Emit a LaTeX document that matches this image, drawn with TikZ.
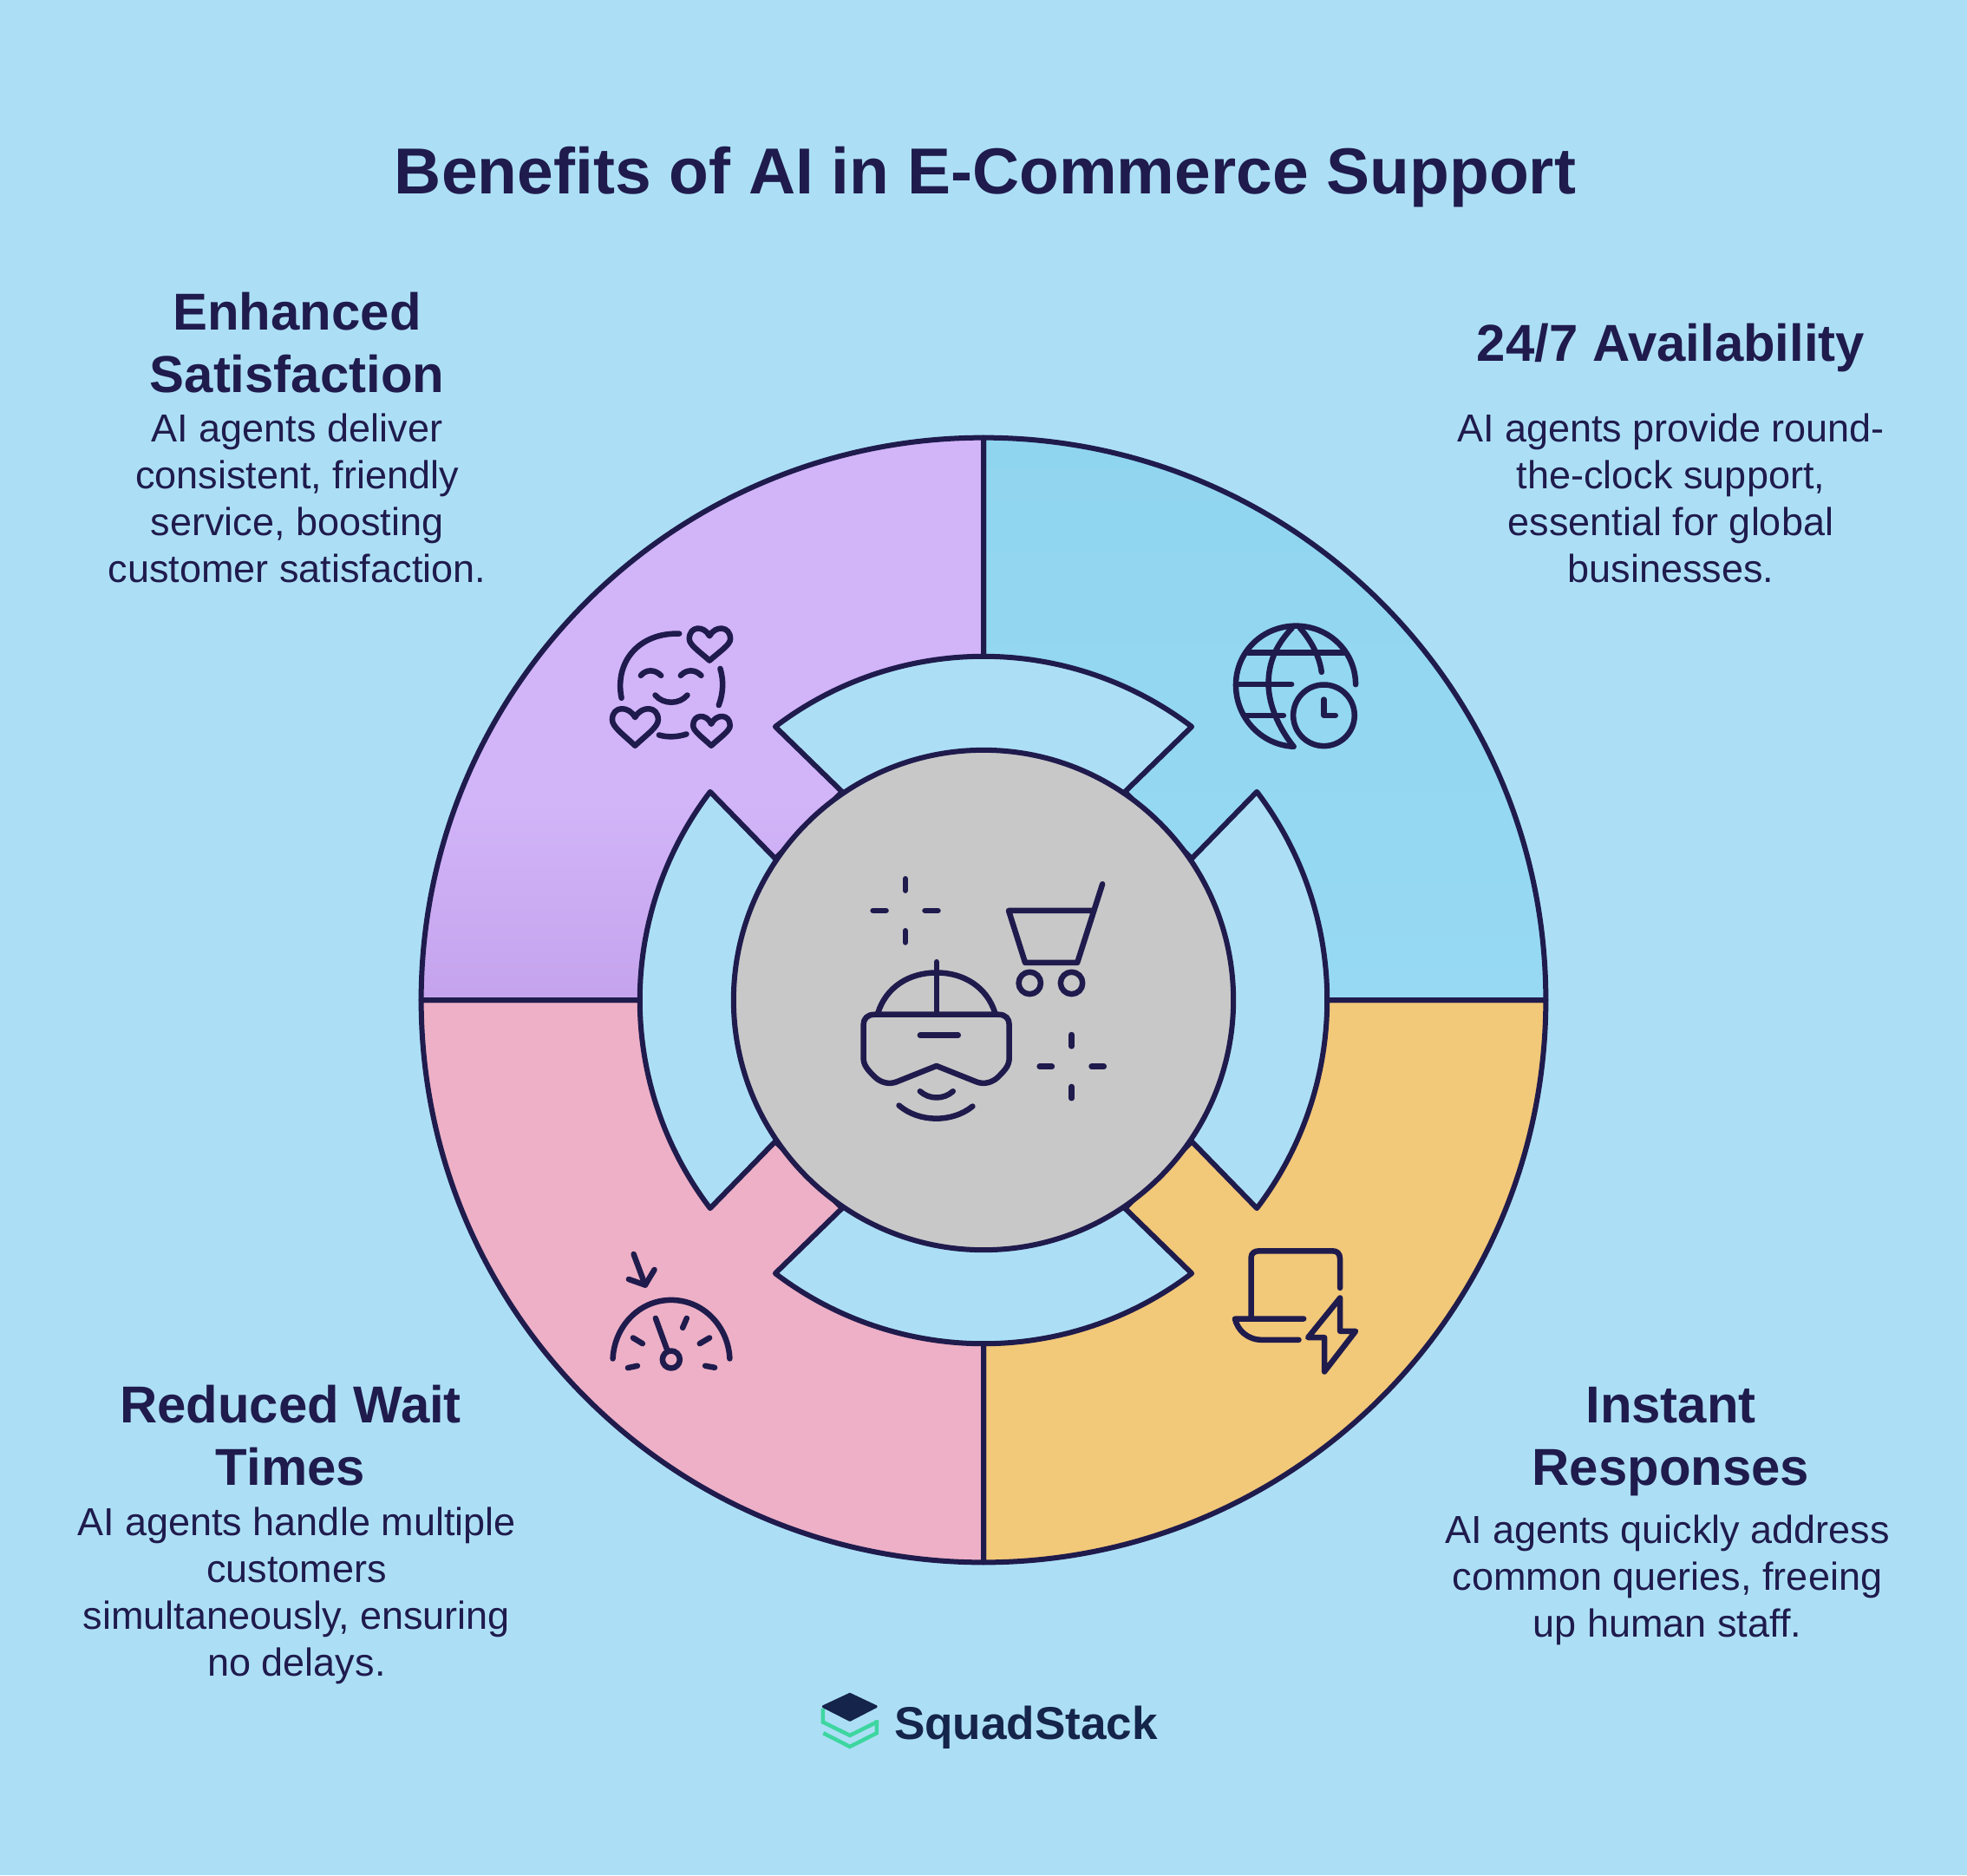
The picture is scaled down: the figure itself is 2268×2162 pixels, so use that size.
\documentclass[tikz,border=0pt]{standalone}
\usepackage{fontspec}
\setmainfont{Liberation Sans}
\definecolor{bgc}{HTML}{ACDFF5}
\definecolor{ink}{HTML}{1F1B4D}
\definecolor{qblue}{HTML}{90D5EF}
\definecolor{qbluelow}{HTML}{97D9F3}
\definecolor{qpurple}{HTML}{D2B4F9}
\definecolor{qpurplelow}{HTML}{C4A3EC}
\definecolor{qpink}{HTML}{EDB0C6}
\definecolor{qorange}{HTML}{F2C879}
\definecolor{hubgray}{HTML}{C8C8C8}
\definecolor{logoink}{HTML}{15244A}
\definecolor{logogreen}{HTML}{3ED6A0}
\tikzset{
  ringline/.style={draw=ink,line width=0.06cm,line join=round},
  iconline/.style={draw=ink,line width=0.065cm,line cap=round,line join=round},
  titletext/.style={text=ink,font=\bfseries\fontsize{21.32pt}{26pt}\selectfont,inner sep=0pt},
  headtext/.style={text=ink,align=center,inner sep=0pt,font=\bfseries\fontsize{17.03pt}{20.5pt}\selectfont},
  bodytext/.style={text=ink,align=center,inner sep=0pt,font=\fontsize{12.8pt}{15.35pt}\selectfont},
  logotext/.style={text=logoink,inner sep=0pt,font=\bfseries\fontsize{15.1pt}{18pt}\selectfont},
  zoomed/.style={x=0.0033333cm,y=-0.0033333cm}
}
\def\purplepath{(90:6.48) arc[start angle=90,end angle=180,radius=6.48cm] -- (180:3.96) arc[start angle=180,end angle=142.7,radius=3.96cm] -- (-2.40,1.63) -- (-1.63,2.40) -- (127.3:3.96) arc[start angle=127.3,end angle=90,radius=3.96cm] -- cycle}
\def\bluepath{(90:6.48) arc[start angle=90,end angle=0,radius=6.48cm] -- (0:3.96) arc[start angle=0,end angle=37.3,radius=3.96cm] -- (2.40,1.63) -- (1.63,2.40) -- (52.7:3.96) arc[start angle=52.7,end angle=90,radius=3.96cm] -- cycle}
\def\pinkpath{(270:6.48) arc[start angle=270,end angle=180,radius=6.48cm] -- (180:3.96) arc[start angle=180,end angle=217.3,radius=3.96cm] -- (-2.40,-1.63) -- (-1.63,-2.40) -- (232.7:3.96) arc[start angle=232.7,end angle=270,radius=3.96cm] -- cycle}
\def\orangepath{(270:6.48) arc[start angle=270,end angle=360,radius=6.48cm] -- (0:3.96) arc[start angle=360,end angle=322.7,radius=3.96cm] -- (2.40,-1.63) -- (1.63,-2.40) -- (307.3:3.96) arc[start angle=307.3,end angle=270,radius=3.96cm] -- cycle}
\begin{document}
\begin{tikzpicture}[x=0.01cm,y=-0.01cm]
\useasboundingbox (0,0) rectangle (2268,2162);
\fill[bgc] (0,0) rectangle (2268,2162);

% ring
\begin{scope}[shift={(1134,1153)},x=1cm,y=1cm]
  \begin{scope}
    \clip \bluepath;
    \shade[top color=qblue,bottom color=qbluelow,shading angle=0] (-0.1,-0.1) rectangle (6.6,6.6);
  \end{scope}
  \begin{scope}
    \clip \purplepath;
    \fill[qpurple] (-6.6,0) rectangle (0.1,6.6);
    \shade[top color=qpurple,bottom color=qpurplelow] (-6.6,-0.05) rectangle (0.1,2.3);
  \end{scope}
  \fill[qpink] \pinkpath;
  \fill[qorange] \orangepath;
  \draw[ringline] \bluepath;
  \draw[ringline] \purplepath;
  \draw[ringline] \pinkpath;
  \draw[ringline] \orangepath;
  \draw[ringline,fill=hubgray] (0,0) circle[radius=2.88cm];
\end{scope}

% satisfaction icon
\begin{scope}[shift={(680,690)},zoomed]
  \draw[iconline] (110,345) .. controls (85,220) and (170,118) .. (310,122);
  \draw[iconline] (452,243) .. controls (465,285) and (462,330) .. (447,370);
  \draw[iconline] (240,473) .. controls (270,482) and (305,480) .. (335,470);
  \draw[iconline] (177,267) .. controls (195,245) and (225,245) .. (247,267);
  \draw[iconline] (315,267) .. controls (335,245) and (365,245) .. (386,267);
  \draw[iconline] (227,335) .. controls (255,368) and (310,368) .. (338,335);
  \draw[iconline] (415,130) .. controls (395,92) and (345,95) .. (345,140) .. controls (345,160) and (375,180) .. (415,215) .. controls (455,180) and (487,160) .. (487,140) .. controls (487,95) and (435,92) .. (415,130) -- cycle;
  \draw[iconline] (157,412) .. controls (135,370) and (78,372) .. (78,420) .. controls (78,445) and (115,470) .. (157,510) .. controls (199,470) and (237,445) .. (237,420) .. controls (237,372) and (179,370) .. (157,412) -- cycle;
  \draw[iconline] (421,435) .. controls (405,398) and (358,400) .. (358,440) .. controls (358,458) and (385,477) .. (421,510) .. controls (457,477) and (486,458) .. (486,440) .. controls (486,400) and (437,398) .. (421,435) -- cycle;
\end{scope}

% availability icon
\begin{scope}[shift={(1400,700)},zoomed]
  \draw[iconline] (490,268) .. controls (490,155) and (398,65) .. (283,65) .. controls (168,65) and (75,155) .. (75,270) .. controls (75,385) and (165,478) .. (275,483);
  \draw[iconline] (270,72) .. controls (215,130) and (188,190) .. (188,265) .. controls (188,340) and (225,420) .. (275,483);
  \draw[iconline] (297,72) .. controls (335,115) and (365,170) .. (372,225);
  \draw[iconline] (118,158) -- (448,158);
  \draw[iconline] (80,267) -- (268,267);
  \draw[iconline] (105,375) -- (240,375);
  \draw[iconline] (380,375) circle[radius=0.353cm];
  \draw[iconline] (380,320) -- (380,375) -- (420,375);
\end{scope}

% hub icon
\begin{scope}[shift={(960,990)},zoomed]
  \draw[iconline] (252,70) -- (252,110);
  \draw[iconline] (252,250) -- (252,290);
  \draw[iconline] (140,180) -- (185,180);
  \draw[iconline] (320,180) -- (365,180);
  \draw[iconline] (828,610) -- (828,650);
  \draw[iconline] (828,790) -- (828,830);
  \draw[iconline] (717,720) -- (760,720);
  \draw[iconline] (897,720) -- (940,720);
  \draw[iconline] (935,88) -- (848,360) -- (667,360) -- (610,180) -- (905,180);
  \draw[iconline] (683,431) circle[radius=0.127cm];
  \draw[iconline] (828,431) circle[radius=0.127cm];
  \draw[iconline] (145,540) -- (575,540) .. controls (600,540) and (612,555) .. (612,575) -- (612,690) .. controls (612,715) and (600,730) .. (575,755) .. controls (555,775) and (525,785) .. (495,772) -- (360,718) -- (225,772) .. controls (195,785) and (165,775) .. (145,755) .. controls (120,730) and (107,715) .. (107,690) -- (107,575) .. controls (107,555) and (120,540) .. (145,540) -- cycle;
  \draw[iconline] (157,535) .. controls (185,445) and (265,395) .. (360,395) .. controls (455,395) and (535,445) .. (563,535);
  \draw[iconline] (360,358) -- (360,540);
  \draw[iconline] (303,612) -- (435,612);
  \draw[iconline] (303,806) .. controls (335,835) and (385,835) .. (417,806);
  \draw[iconline] (230,855) .. controls (300,915) and (415,915) .. (485,858);
\end{scope}

% responses icon
\begin{scope}[shift={(1400,1420)},zoomed]
  \draw[iconline] (128,295) -- (128,90) .. controls (128,75) and (140,67) .. (155,67) -- (410,67) .. controls (425,67) and (436,75) .. (436,95) -- (436,195);
  \draw[iconline] (310,302) -- (72,302) .. controls (80,340) and (115,375) .. (165,375) -- (293,375);
  \draw[iconline] (436,230) -- (325,367) -- (382,367) -- (382,485) -- (490,345) -- (436,345) -- cycle;
\end{scope}

% wait-times icon
\begin{scope}[shift={(680,1430)},zoomed]
  \draw[iconline] (152,48) -- (192,155);
  \draw[iconline] (135,135) -- (192,155) -- (224,102);
  \draw[iconline] (80,410) .. controls (85,300) and (170,207) .. (282,207) .. controls (395,207) and (480,300) .. (485,410);
  \draw[iconline] (228,270) -- (270,385);
  \draw[iconline] (282,413) circle[radius=0.1cm];
  \draw[iconline] (132,442) -- (165,435);
  \draw[iconline] (150,338) -- (183,358);
  \draw[iconline] (322,303) -- (336,270);
  \draw[iconline] (381,358) -- (415,338);
  \draw[iconline] (400,435) -- (433,441);
\end{scope}

% logo
\begin{scope}[shift={(930,1930)},zoomed]
  \draw[logogreen,line width=0.045cm,line join=miter] (57,120) -- (57,167) -- (150,213) -- (243,167) -- (243,160);
  \draw[logogreen,line width=0.045cm,line join=miter] (58,205) -- (150,252) -- (243,205) -- (243,160);
  \fill[logoink,draw=logoink,line width=0.03cm,line join=round] (58,113) -- (150,70) -- (241,113) -- (150,160) -- cycle;
\end{scope}

% texts
\node[titletext] (title) at (1136,204) {Benefits of AI in E-Commerce Support};
\node[headtext] (h1) at (342.5,395) {Enhanced\\Satisfaction};
\node[bodytext] (b1) at (342.5,574) {AI agents deliver\\consistent, friendly\\service, boosting\\customer satisfaction.};
\node[headtext] (h2) at (1926.5,401) {24/7 Availability};
\node[bodytext] (b2) at (1926.5,574) {AI agents provide round-\\the-clock support,\\essential for global\\businesses.};
\node[headtext] (h3) at (335,1655) {Reduced Wait\\Times};
\node[bodytext] (b3) at (342,1840) {AI agents handle multiple\\customers\\simultaneously, ensuring\\no delays.};
\node[headtext] (h4) at (1926.5,1662) {Instant\\Responses};
\node[bodytext] (b4) at (1922.5,1822) {AI agents quickly address\\common queries, freeing\\up human staff.};
\node[logotext] (logo) at (1183,1992) {SquadStack};
\end{tikzpicture}
\end{document}
